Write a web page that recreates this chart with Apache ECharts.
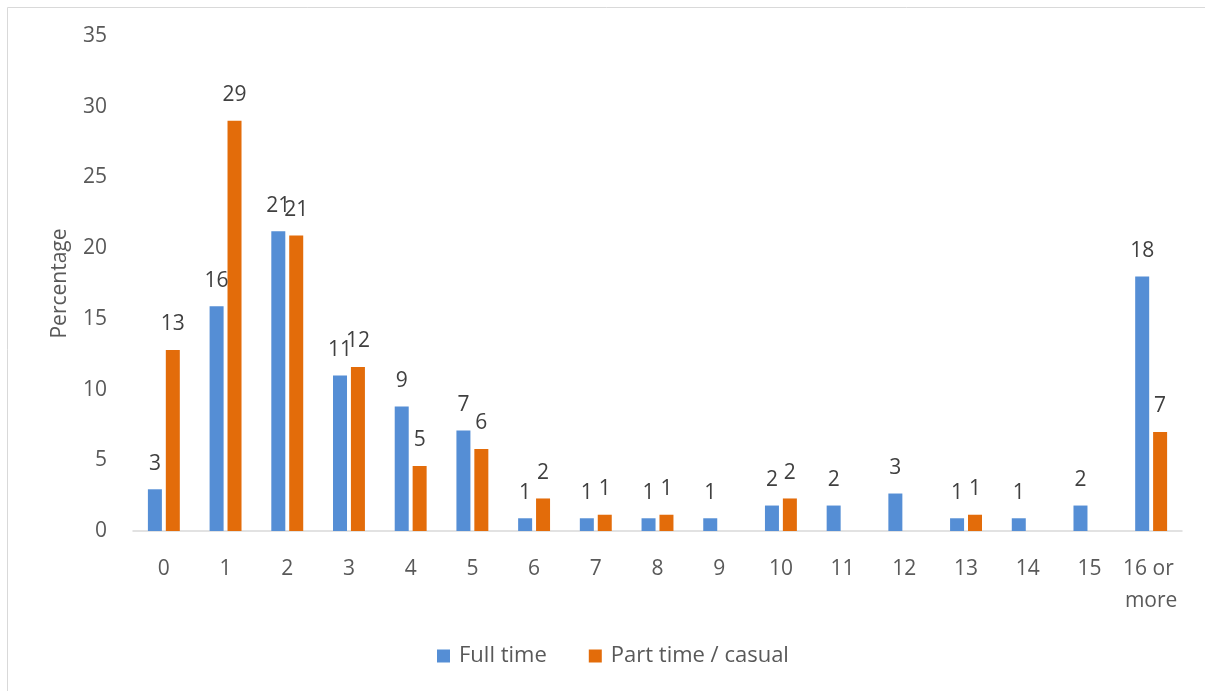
<!DOCTYPE html>
<html>
<head>
<meta charset="utf-8">
<script src="https://cdn.jsdelivr.net/npm/echarts@6/dist/echarts.min.js"></script>
<style>
html,body{margin:0;padding:0;background:#fff;}
#c{width:1205px;height:691px;}
</style>
</head>
<body>
<div id="c"></div>
<script>
const categories = ['0','1','2','3','4','5','6','7','8','9','10','11','12','13','14','15','16 or more'];
const fullTime = [2.95, 15.9, 21.2, 11.0, 8.8, 7.1, 0.9, 0.9, 0.9, 0.9, 1.8, 1.8, 2.65, 0.9, 0.9, 1.8, 18.0];
const partTime = [12.8, 29.0, 20.9, 11.6, 4.6, 5.8, 2.3, 1.15, 1.15, 0, 2.3, 0, 0, 1.15, 0, 0, 7.0];
const yTicks = [0, 5, 10, 15, 20, 25, 30, 35];

const FONT = 'Open Sans';
const FS = 21;
const chart = echarts.init(document.getElementById('c'));
const labelCfg = {
  show: true,
  position: 'top',
  distance: 15,
  fontFamily: FONT,
  fontSize: FS,
  color: '#404040',
  formatter: p => p.value ? String(Math.round(p.value)) : ''
};
chart.setOption({
  animation: false,
  textStyle: {fontFamily: FONT},
  graphic: [{
    type: 'rect',
    shape: {x: 7.5, y: 7.5, width: 1205, height: 700},
    style: {fill: 'none', stroke: '#d9d9d9', lineWidth: 1},
    silent: true
  }],
  grid: {left: 133, right: 23, top: 36, bottom: 160, containLabel: false},
  legend: {
    bottom: 19,
    left: 432,
    itemWidth: 13,
    itemHeight: 13,
    itemGap: 42,
    icon: 'rect',
    textStyle: {fontFamily: FONT, fontSize: 22, color: '#595959', padding: [0,0,0,4]},
    data: ['Full time', 'Part time / casual']
  },
  xAxis: {
    type: 'category',
    data: categories,
    axisLine: {lineStyle: {color: '#d9d9d9', width: 1.5}},
    axisTick: {show: false},
    axisLabel: {
      fontFamily: FONT, fontSize: FS, color: '#595959', margin: 22,
      interval: 0, width: 62, overflow: 'break', lineHeight: 32
    }
  },
  yAxis: {
    type: 'value',
    min: yTicks[0],
    max: yTicks[yTicks.length - 1],
    interval: 5,
    name: 'Percentage',
    nameLocation: 'middle',
    nameGap: 62,
    nameTextStyle: {fontFamily: FONT, fontSize: FS, color: '#595959'},
    axisLine: {show: false},
    axisTick: {show: false},
    splitLine: {show: false},
    axisLabel: {fontFamily: FONT, fontSize: FS, color: '#595959', margin: 26}
  },
  series: [
    {
      name: 'Full time', type: 'bar', data: fullTime,
      barWidth: 14, barGap: '28%',
      itemStyle: {color: '#558ed5'},
      label: labelCfg
    },
    {
      name: 'Part time / casual', type: 'bar', data: partTime,
      barWidth: 14,
      itemStyle: {color: '#e36c0a'},
      label: labelCfg
    }
  ]
});
</script>
</body>
</html>
